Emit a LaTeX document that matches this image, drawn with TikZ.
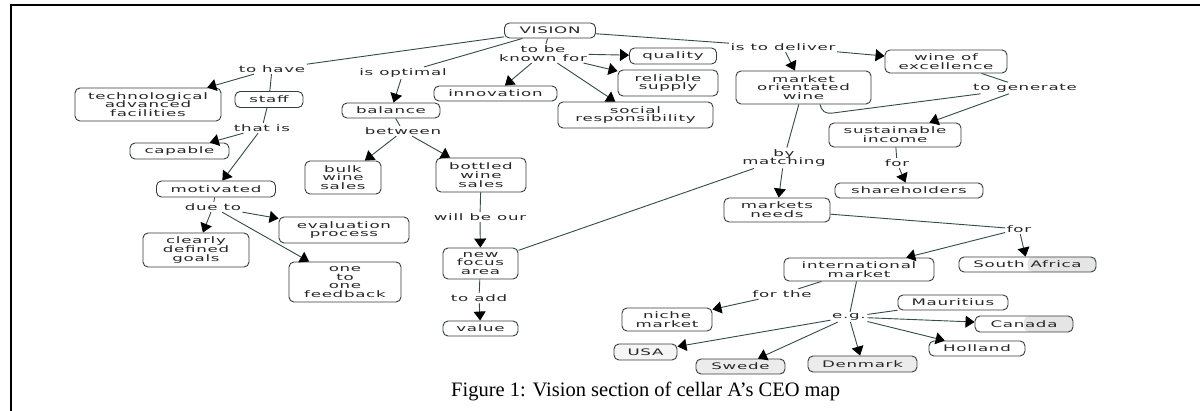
\documentclass[tikz,border=0pt]{standalone}
\usepackage{fontspec}
\setmainfont{Liberation Serif}
\newfontfamily\mapfont[FakeStretch=1.85,LetterSpace=8]{DejaVu Sans}
\usetikzlibrary{arrows.meta}
\definecolor{linkcol}{RGB}{50,75,75}
\definecolor{boxcol}{RGB}{55,60,60}
\begin{document}
\begin{tikzpicture}[x=1pt,y=-1pt,
  mapfontsize/.style={font=\mapfont\fontsize{9}{8.8}\selectfont},
  concept/.style={draw=boxcol, line width=0.9pt, rounded corners=5pt, align=center,
    inner sep=0pt, mapfontsize, text=black!85},
  sz/.style 2 args={minimum width=#1pt, minimum height=#2pt},
  linkword/.style={align=center, inner sep=1.5pt, mapfontsize, text=black!85},
  link/.style={draw=linkcol, line width=0.9pt},
  arr/.style={link, -{Triangle[length=9pt,width=12pt,color=black]}},
  halfgray/.style={path picture={\fill[gray!20] (path picture bounding box.north)
    rectangle (path picture bounding box.south east);}},
]
\useasboundingbox (0,0) rectangle (1200,411);
\fill[white] (0,0) rectangle (1200,411);

% frame of the figure
\draw[line width=2pt] (11,411) -- (11,5) -- (1200,5);

% concepts
\node[concept, sz={91}{15}] (vision) at (550,30.5) {VISION};
\node[concept, sz={146}{33}] (tech) at (148,104.5) {technological\\advanced\\facilities};
\node[concept, sz={68}{16}] (staff) at (269,99.5) {staff};
\node[concept, sz={99}{16}] (capable) at (179.5,151) {capable};
\node[concept, sz={119}{16}] (motiv) at (216,189) {motivated};
\node[concept, sz={130}{26}] (evalp) at (344,230) {evaluation\\process};
\node[concept, sz={106}{34}] (goals) at (196,250) {clearly\\defined\\goals};
\node[concept, sz={112}{40}] (feedb) at (345,282) {one\\to\\one\\feedback};
\node[concept, sz={98}{15}] (balance) at (391,110.5) {balance};
\node[concept, sz={76}{33}] (bulk) at (343,177.5) {bulk\\wine\\sales};
\node[concept, sz={90}{34}] (bottled) at (481,175) {bottled\\wine\\sales};
\node[concept, sz={75}{31}] (nfa) at (480.5,263.5) {new\\focus\\area};
\node[concept, sz={75}{15}] (value) at (480.5,328.5) {value};
\node[concept, sz={87}{16}] (quality) at (673,56) {quality};
\node[concept, sz={100}{26}] (reliable) at (668,83) {reliable\\supply};
\node[concept, sz={123}{15}] (innov) at (495.5,93.5) {innovation};
\node[concept, sz={155}{26}] (social) at (635.5,115) {social\\responsibility};
\node[concept, sz={135}{33}] (mow) at (803.5,87.5) {market\\orientated\\wine};
\node[concept, sz={122}{23}] (excel) at (946,61.5) {wine of\\excellence};
\node[concept, sz={132}{24}] (income) at (895,135) {sustainable\\income};
\node[concept, sz={148}{15}] (share) at (909,190.5) {shareholders};
\node[concept, sz={106}{24}] (needs) at (777,210) {markets\\needs};
\node[concept, sz={150}{23}] (intl) at (859,269.5) {international\\market};
\node[concept, sz={137}{15}, halfgray] (safrica) at (1027.5,264.5) {South Africa};
\node[concept, sz={90}{23}] (niche) at (667,319.5) {niche\\market};
\node[concept, sz={110}{15}] (maur) at (953,302.5) {Mauritius};
\node[concept, sz={98}{16}, halfgray] (canada) at (1024,324) {Canada};
\node[concept, sz={96}{15}] (holland) at (977,348.5) {Holland};
\node[concept, sz={109}{16}, fill=gray!15] (denmark) at (862.5,364) {Denmark};
\node[concept, sz={89}{15}, fill=gray!15] (swede) at (740.5,366.5) {Swede};
\node[concept, sz={63}{16}, fill=gray!8] (usa) at (645.5,352) {USA};

% linking phrases
\node[linkword] (tohave) at (272,69) {to have};
\node[linkword] (thatis) at (262,128) {that is};
\node[linkword] (dueto) at (213,207) {due to};
\node[linkword] (isopt) at (403,73) {is optimal};
\node[linkword] (between) at (403,131) {between};
\node[linkword] (willbe) at (480,217) {will be our};
\node[linkword] (toadd) at (479,298) {to add};
\node[linkword] (known) at (543,53.5) {to be\\known for};
\node[linkword] (deliver) at (783,47) {is to deliver};
\node[linkword] (generate) at (1025,88) {to generate};
\node[linkword] (forA) at (897,163) {for};
\node[linkword] (matching) at (784,158) {by\\matching};
\node[linkword] (forB) at (1019,229) {for};
\node[linkword] (forthe) at (782,294) {for the};
\node[linkword] (eg) at (849,317) {e.g.};
\coordinate (mowbend) at (833,113);

% connectors: left branch
\draw[link] (vision) -- (tohave);
\draw[arr] (tohave) -- (tech);
\draw[link] (tohave) -- (staff);
\draw[link] (staff) -- (thatis);
\draw[arr] (thatis) -- (capable);
\draw[arr] (thatis) -- (motiv);
\draw[link] (motiv) -- (dueto);
\draw[arr] (dueto) -- (goals);
\draw[arr] (dueto) -- (evalp);
\draw[arr] (dueto) -- (feedb);

% balance branch
\draw[link] (vision) -- (isopt);
\draw[arr] (isopt) -- (balance);
\draw[link] (balance) -- (between);
\draw[arr] (between) -- (bulk);
\draw[arr] (between) -- (bottled);
\draw[link] (bottled) -- (willbe);
\draw[arr] (willbe) -- (nfa);
\draw[link] (nfa) -- (toadd);
\draw[arr] (toadd) -- (value);

% to be known for
\draw[link] (vision) -- (known);
\draw[arr] (known) -- (innov);
\draw[arr] (known) -- (quality);
\draw[arr] (known) -- (reliable);
\draw[arr] (known) -- (social);

% is to deliver
\draw[link] (vision) -- (deliver);
\draw[arr] (deliver) -- (mow);
\draw[arr] (deliver) -- (excel);
\draw[link] (excel) -- (generate);
\draw[link] ([xshift=16.5pt]mow.south) .. controls +(2,7) and +(-8,1) .. (mowbend) -- (generate);
\draw[arr] (generate) -- (income);
\draw[link] (income) -- (forA);
\draw[arr] (forA) -- (share);
\draw[link] (mow) -- (matching);
\draw[arr] (matching) -- (needs);
\draw[link] (matching) -- (nfa);

% markets
\draw[link] (needs) -- (forB);
\draw[arr] (forB) -- (intl);
\draw[arr] (forB) -- (safrica);
\draw[link] (intl) -- (forthe);
\draw[arr] (forthe) -- (niche);
\draw[link] (intl) -- (eg);
\draw[link] (eg) -- (maur);
\draw[arr] (eg) -- (canada);
\draw[arr] (eg) -- (holland);
\draw[arr] (eg) -- (denmark);
\draw[arr] (eg) -- (swede);
\draw[arr] (eg) -- (usa);

% caption
\node[anchor=base west, inner sep=0pt, font=\fontsize{20.5}{24}\selectfont] (caption)
  at (451,397) {Figure 1: Vision section of cellar A’s CEO map};
\end{tikzpicture}
\end{document}
